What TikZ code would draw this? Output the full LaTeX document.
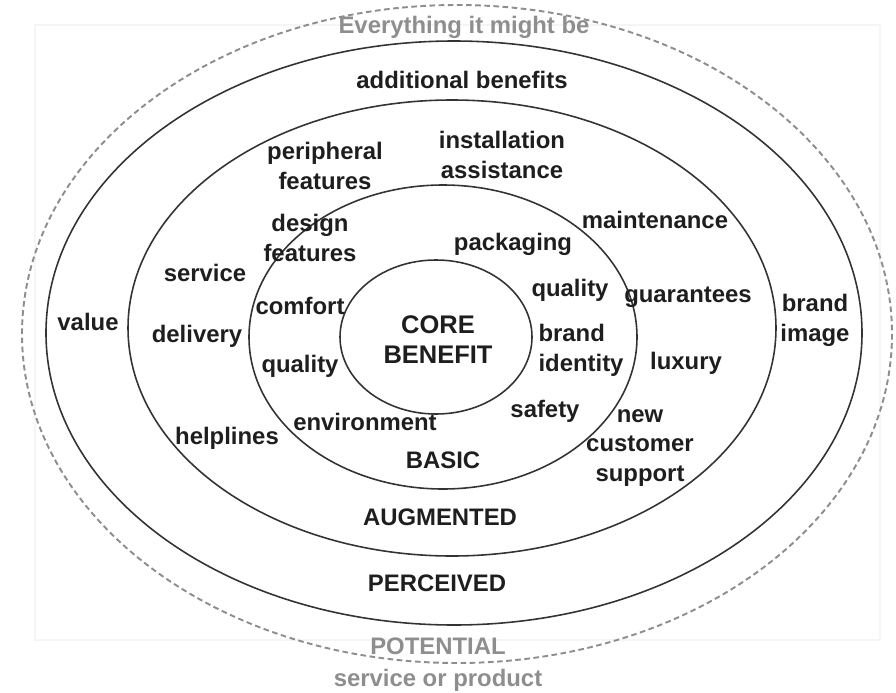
\documentclass[tikz,border=0pt]{standalone}
\usepackage{fontspec}
\setmainfont{Liberation Sans}
\definecolor{ringgray}{HTML}{333333}
\definecolor{potgray}{HTML}{8E8E8E}
\definecolor{txtgray}{HTML}{1E1E1E}

\begin{document}
\begin{tikzpicture}[x=0.02cm, y=-0.02cm,
    ring/.style={draw=ringgray, line width=0.9pt},
    potring/.style={draw=potgray, line width=1.1pt, dash pattern=on 3.2pt off 2pt},
    lbl/.style={text=txtgray, font=\fontsize{13.6}{17}\selectfont\bfseries, inner sep=0pt, align=center},
    potlbl/.style={lbl, text=potgray}]
  \useasboundingbox (0,0) rectangle (896,693);
  % faint frame behind the rings
  \draw [black!4, line width=0.6pt] (35,25) rectangle (880,640);

  % the rings, outside in
  \draw [potring] (457,334) ellipse (435 and 329);
  \draw [ring] (454,333) ellipse (408 and 292);
  \draw [ring] (452,328) ellipse (324 and 228);
  \draw [ring] (443,337) ellipse (194 and 152);
  \draw [ring] (436,337) ellipse (96 and 77);

  % potential
  \node [potlbl] (everything) at (464,27) {Everything it might be};
  \node [potlbl] (potential) at (438,646) {POTENTIAL};
  \node [potlbl] (product) at (438,680) {service or product};

  % perceived
  \node [lbl] (benefits) at (462,80) {additional benefits};
  \node [lbl] (value) at (88,322) {value};
  \node [lbl] (image) at (815,320) {brand\\image};
  \node [lbl] (perceived) at (437,583) {PERCEIVED};

  % augmented
  \node [lbl] (peripheral) at (325,166) {peripheral\\features};
  \node [lbl] (install) at (502,155) {installation\\assistance};
  \node [lbl] (maint) at (655,220) {maintenance};
  \node [lbl] (service) at (205,273) {service};
  \node [lbl] (guarantees) at (688,297) {guarantees};
  \node [lbl] (delivery) at (197,336) {delivery};
  \node [lbl] (luxury) at (686,363) {luxury};
  \node [lbl] (helplines) at (227,438) {helplines};
  \node [lbl] (support) at (640,448) {new\\customer\\support};
  \node [lbl] (augmented) at (440,517) {AUGMENTED};

  % basic
  \node [lbl] (design) at (310,238) {design\\features};
  \node [lbl] (packaging) at (513,244) {packaging};
  \node [lbl] (comfort) at (300,306) {comfort};
  \node [lbl] (qualityr) at (570,290) {quality};
  \node [lbl, align=left] (identity) at (581,350) {brand\\identity};
  \node [lbl] (qualityl) at (300,366) {quality};
  \node [lbl] (safety) at (545,411) {safety};
  \node [lbl] (environ) at (365,422) {environment};
  \node [lbl] (basic) at (443,460) {BASIC};

  % core
  \node [lbl, font=\fontsize{14.5}{17}\selectfont\bfseries] (core) at (438,340) {CORE\\BENEFIT};
\end{tikzpicture}
\end{document}
